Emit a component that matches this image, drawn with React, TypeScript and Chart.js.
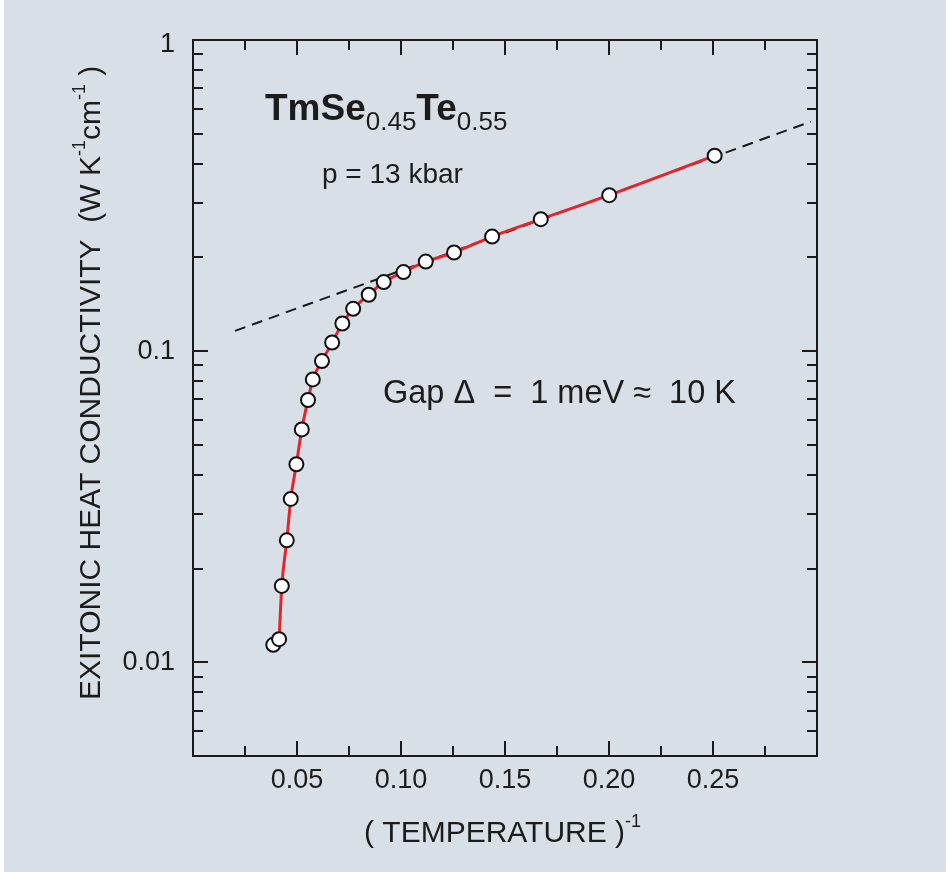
import React, { useEffect, useRef } from "react";
import { Chart, registerables } from "chart.js";

Chart.register(...registerables);

// ---- data ----
const inverseTemperature = [
  0.0386, 0.0414, 0.0427, 0.0451, 0.047, 0.0497, 0.0523, 0.0553, 0.0576, 0.062,
  0.0669, 0.0718, 0.077, 0.0845, 0.0917, 0.1012, 0.1119, 0.1255, 0.1438, 0.1672,
  0.2001, 0.2508,
];
const conductivity = [
  0.01138, 0.01187, 0.0176, 0.02466, 0.0335, 0.0433, 0.05605, 0.06966, 0.08111,
  0.09295, 0.1066, 0.1227, 0.1368, 0.1518, 0.1667, 0.1796, 0.194, 0.2075, 0.2335,
  0.2656, 0.3172, 0.425,
];
const fitStartIndex = 1;
const asymptoteX = [0.0202, 0.297];
const asymptoteY = [0.1162, 0.5465];

const xMajorTicks = [0.05, 0.1, 0.15, 0.2, 0.25];
const xTickLabels = ["0.05", "0.10", "0.15", "0.20", "0.25"];
const xMinorTicks = [0.025, 0.075, 0.125, 0.175, 0.225, 0.275];
const yMajorTicks = [1, 0.1, 0.01];
const yTickLabels = ["1", "0.1", "0.01"];
const yMinorTicks = [
  0.9, 0.8, 0.7, 0.6, 0.5, 0.4, 0.3, 0.2,
  0.09, 0.08, 0.07, 0.06, 0.05, 0.04, 0.03, 0.02,
  0.009, 0.008, 0.007, 0.006, 0.005,
];

const FONT = '"Liberation Sans", Arial, Helvetica, sans-serif';
const TEXT = "#1c1c1c";
const BG = "#d9dfe7";

type Seg = { text: string; size: number; bold?: boolean; dy?: number };

function drawRich(ctx: CanvasRenderingContext2D, x: number, y: number, segs: Seg[]) {
  let cx = x;
  for (const s of segs) {
    ctx.font = `${s.bold ? "bold " : ""}${s.size}px ${FONT}`;
    ctx.fillText(s.text, cx, y + (s.dy || 0));
    cx += ctx.measureText(s.text).width;
  }
}

const decorPlugin = {
  id: "decor",
  beforeDraw(chart: any) {
    const ctx = chart.ctx as CanvasRenderingContext2D;
    ctx.save();
    ctx.fillStyle = BG;
    ctx.fillRect(0, 0, chart.width, chart.height);
    ctx.fillStyle = "#ffffff";
    ctx.fillRect(0, 0, 4, chart.height);
    ctx.restore();
  },
  afterDraw(chart: any) {
    const ctx = chart.ctx as CanvasRenderingContext2D;
    const { left, right, top, bottom } = chart.chartArea;
    const xs = chart.scales.x;
    const ys = chart.scales.y;
    ctx.save();
    ctx.strokeStyle = "#1a1a1a";
    ctx.lineWidth = 2;
    ctx.strokeRect(left, top, right - left, bottom - top);

    const major = 15;
    const minor = 10;
    ctx.beginPath();
    const xt = (v: number, len: number) => {
      const px = Math.round(xs.getPixelForValue(v));
      ctx.moveTo(px, bottom);
      ctx.lineTo(px, bottom - len);
      ctx.moveTo(px, top);
      ctx.lineTo(px, top + len);
    };
    const yt = (v: number, len: number) => {
      const py = Math.round(ys.getPixelForValue(v));
      ctx.moveTo(left, py);
      ctx.lineTo(left + len, py);
      ctx.moveTo(right, py);
      ctx.lineTo(right - len, py);
    };
    xMajorTicks.forEach((v) => xt(v, major));
    xMinorTicks.forEach((v) => xt(v, minor));
    yMajorTicks.forEach((v) => yt(v, major));
    yMinorTicks.forEach((v) => yt(v, minor));
    ctx.stroke();

    ctx.fillStyle = TEXT;
    ctx.font = `27px ${FONT}`;
    ctx.textBaseline = "middle";
    ctx.textAlign = "center";
    xMajorTicks.forEach((v, i) => {
      ctx.fillText(xTickLabels[i], xs.getPixelForValue(v), bottom + 25);
    });
    ctx.textAlign = "right";
    yMajorTicks.forEach((v, i) => {
      const py = ys.getPixelForValue(v);
      ctx.fillText(yTickLabels[i], left - 18, i === 0 ? py + 5 : py);
    });

    ctx.textAlign = "left";
    ctx.textBaseline = "alphabetic";
    // chart title
    drawRich(ctx, 265, 120, [
      { text: "TmSe", size: 37, bold: true },
      { text: "0.45", size: 26, dy: 10 },
      { text: "Te", size: 37, bold: true },
      { text: "0.55", size: 26, dy: 10 },
    ]);
    drawRich(ctx, 322, 183, [{ text: "p = 13 kbar", size: 28 }]);
    drawRich(ctx, 383, 403, [{ text: "Gap \u0394  =  1 meV \u2248  10 K", size: 32.5 }]);

    // x axis title
    drawRich(ctx, 364, 842, [
      { text: "( TEMPERATURE )", size: 30 },
      { text: "-1", size: 18, dy: -15 },
    ]);

    // y axis title (rotated)
    ctx.translate(100, 700);
    ctx.rotate(-Math.PI / 2);
    drawRich(ctx, 0, 0, [
      { text: "EXITONIC HEAT CONDUCTIVITY  (W K", size: 30 },
      { text: "-1", size: 18, dy: -15 },
      { text: "cm", size: 30 },
      { text: "-1", size: 18, dy: -15 },
      { text: " )", size: 30 },
    ]);
    ctx.restore();
  },
};

export default function App() {
  const ref = useRef<HTMLCanvasElement>(null);
  useEffect(() => {
    document.body.style.margin = "0";
    const markers = inverseTemperature.map((x, i) => ({ x, y: conductivity[i] }));
    const fit = markers.slice(fitStartIndex);
    const asymptote = asymptoteX.map((x, i) => ({ x, y: asymptoteY[i] }));
    const chart = new Chart(ref.current as HTMLCanvasElement, {
      type: "scatter",
      data: {
        datasets: [
          {
            label: "measured",
            data: markers,
            showLine: false,
            pointRadius: 7,
            pointBackgroundColor: "#ffffff",
            pointBorderColor: "#111111",
            pointBorderWidth: 2,
            order: 0,
          },
          {
            label: "curve",
            data: fit,
            showLine: true,
            borderColor: "#e3262b",
            borderWidth: 3,
            pointRadius: 0,
            cubicInterpolationMode: "monotone",
            order: 1,
          },
          {
            label: "asymptote",
            data: asymptote,
            showLine: true,
            borderColor: "#1a1a1a",
            borderWidth: 2,
            borderDash: [11, 7],
            pointRadius: 0,
            order: 2,
          },
        ],
      } as any,
      options: {
        animation: false,
        responsive: false,
        devicePixelRatio: 1,
        layout: { padding: { left: 193, top: 40, right: 129, bottom: 116 } },
        plugins: { legend: { display: false }, tooltip: { enabled: false } },
        events: [],
        scales: {
          x: { type: "linear", min: 0, max: 0.3, display: false },
          y: { type: "logarithmic", min: 0.005, max: 1, display: false },
        },
      } as any,
      plugins: [decorPlugin],
    });
    return () => chart.destroy();
  }, []);
  return (
    <canvas
      ref={ref}
      width={946}
      height={872}
      style={{ display: "block", width: 946, height: 872 }}
    />
  );
}
